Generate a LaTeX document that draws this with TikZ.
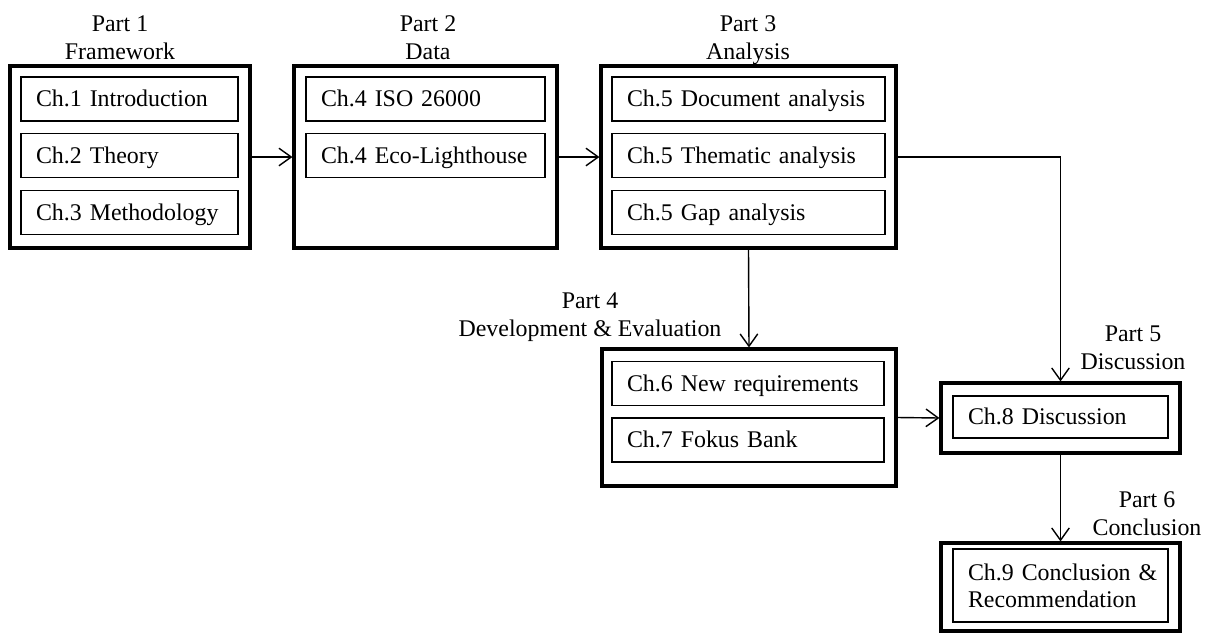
\documentclass[tikz,border=0pt]{standalone}
\usepackage{fontspec}
\setmainfont{Liberation Serif}
\usetikzlibrary{arrows.meta,positioning}

\begin{document}
\begin{tikzpicture}[x=0.02cm,y=-0.02cm,>={Straight Barb[length=7pt,width=10pt]},
  font=\fontsize{13.6}{16}\selectfont,
  part/.style={draw,line width=1.8pt,inner sep=0pt},
  chapbox/.style={draw,line width=0.9pt,inner xsep=0.3cm,inner ysep=0pt,align=left,text width=#1,minimum height=0.88cm},
  chap/.style={chapbox=#1,text height=0.97em,text depth=0.08em},
  partlabel/.style={align=center,inner sep=0pt,anchor=north},
  link/.style={->,line width=0.8pt}]
  \useasboundingbox (0,0) rectangle (1211,633);
  % outer part boxes
  \node[part,minimum width=4.8cm,minimum height=3.64cm] (p1) at (130,157) {};
  \node[part,minimum width=5.26cm,minimum height=3.64cm] (p2) at (425.5,157) {};
  \node[part,minimum width=5.9cm,minimum height=3.64cm] (p3) at (748.5,157) {};
  \node[part,minimum width=5.88cm,minimum height=2.74cm] (p4) at (749,417.5) {};
  \node[part,minimum width=4.78cm,minimum height=1.4cm] (p5) at (1060.5,418) {};
  \node[part,minimum width=4.78cm,minimum height=1.76cm] (p6) at (1060.5,587) {};
  % part titles
  \node[partlabel] (l1) at (120,15) {Part 1\\Framework};
  \node[partlabel] (l2) at (428,15) {Part 2\\Data};
  \node[partlabel] (l3) at (748,15) {Part 3\\Analysis};
  \node[partlabel] (l4) at (590,292) {Part 4\\Development \& Evaluation};
  \node[partlabel] (l5) at (1133,325) {Part 5\\Discussion};
  \node[partlabel] (l6) at (1147,491) {Part 6\\Conclusion};
  % chapters
  \node[chap=3.74cm] (c1) at (129.5,99) {Ch.1 Introduction};
  \node[chap=3.74cm] (c2) at (129.5,155.5) {Ch.2 Theory};
  \node[chap=3.74cm] (c3) at (129.5,212.5) {Ch.3 Methodology};
  \node[chap=4.18cm] (c4a) at (425.5,99) {Ch.4 ISO 26000};
  \node[chap=4.18cm] (c4b) at (425.5,155.5) {Ch.4 Eco-Lighthouse};
  \node[chap=4.86cm] (c5a) at (748.5,99) {Ch.5 Document analysis};
  \node[chap=4.86cm] (c5b) at (748.5,155.5) {Ch.5 Thematic analysis};
  \node[chap=4.86cm] (c5c) at (748.5,212.5) {Ch.5 Gap analysis};
  \node[chap=4.84cm] (c6) at (748,383.5) {Ch.6 New requirements};
  \node[chap=4.84cm] (c7) at (748,440) {Ch.7 Fokus Bank};
  \node[chap=3.7cm,minimum height=0.84cm] (c8) at (1060.5,417) {Ch.8 Discussion};
  \node[chapbox=3.7cm,minimum height=1.46cm,font=\fontsize{13.6}{15.5}\selectfont] (c9) at (1060.5,585.5) {\mbox{Ch.9 Conclusion \&}\\Recommendation};
  % links
  \draw[link] (p1.east) -- (p2.west);
  \draw[link] (p2.east) -- (p3.west);
  \draw[link] (p3.east) -| (p5.north);
  \draw[link] (p3.south) -- (p4.north);
  \draw[link] (p4.east) -- (p5.west);
  \draw[link] (p5.south) -- (p6.north);
\end{tikzpicture}
\end{document}
